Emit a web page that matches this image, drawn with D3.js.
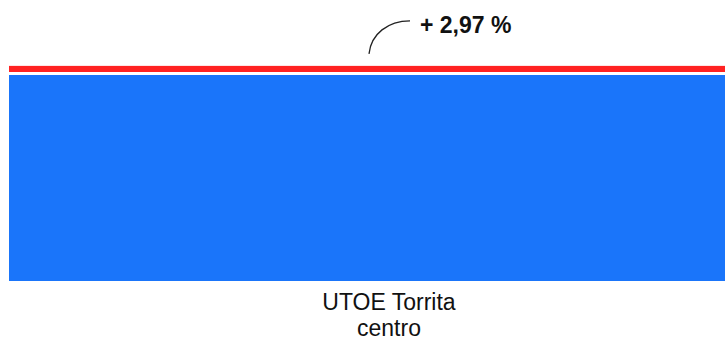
<!DOCTYPE html>
<html>
<head>
<meta charset="utf-8">
<script src="https://cdn.jsdelivr.net/npm/d3@7"></script>
<style>
  html, body { margin: 0; padding: 0; background: #fff; overflow: hidden; }
  svg { display: block; }
  text { font-family: "Liberation Sans", Arial, sans-serif; }
</style>
</head>
<body>
<svg id="chart" width="725" height="341"></svg>
<script>
// Single stacked column: base population index plus growth segment
const categories = ["UTOE Torrita centro"];
const labelLines = [["UTOE Torrita", "centro"]];
const baseValues = [100];
const growthValues = [2.97];
const growthLabels = ["+ 2,97 %"];

const width = 725, height = 341;
const svg = d3.select("#chart");

const x = d3.scaleBand()
  .domain(categories)
  .range([9, 769])
  .padding(0);

const y = d3.scaleLinear()
  .domain([0, 100])
  .range([281, 75]);

const gap = 3;

// base segment
svg.selectAll("rect.base")
  .data(categories)
  .join("rect")
  .attr("class", "base")
  .attr("x", d => x(d))
  .attr("width", x.bandwidth())
  .attr("y", (d, i) => y(baseValues[i]))
  .attr("height", (d, i) => y(0) - y(baseValues[i]))
  .attr("fill", "#1a75fa");

// growth segment stacked on top, separated by a thin white gap
svg.selectAll("rect.growth")
  .data(categories)
  .join("rect")
  .attr("class", "growth")
  .attr("x", d => x(d))
  .attr("width", x.bandwidth())
  .attr("y", (d, i) => y(baseValues[i] + growthValues[i]) - gap)
  .attr("height", (d, i) => y(baseValues[i]) - y(baseValues[i] + growthValues[i]))
  .attr("fill", "#ff2222");

// category labels
const lbl = svg.selectAll("text.cat")
  .data(categories)
  .join("text")
  .attr("class", "cat")
  .attr("x", d => x(d) + x.bandwidth() / 2)
  .attr("y", 310)
  .attr("text-anchor", "middle")
  .attr("font-size", 23)
  .attr("fill", "#111");
lbl.selectAll("tspan")
  .data((d, i) => labelLines[i])
  .join("tspan")
  .attr("x", function() { return d3.select(this.parentNode).attr("x"); })
  .attr("dy", (d, i) => i === 0 ? 0 : 26)
  .text(d => d);

// growth annotation with curved leader
categories.forEach((c, i) => {
  const topY = y(baseValues[i] + growthValues[i]) - gap;
  const sx = 369, sy = topY - 12;
  const ex = 410, ey = topY - 45;
  const p = d3.path();
  p.moveTo(sx, sy);
  p.bezierCurveTo(sx + 2, sy - 20, ex - 22, ey, ex, ey);
  svg.append("path")
    .attr("d", p.toString())
    .attr("fill", "none")
    .attr("stroke", "#222")
    .attr("stroke-width", 1.3);
  svg.append("text")
    .attr("x", ex + 10)
    .attr("y", ey + 12)
    .attr("font-size", 23)
    .attr("font-weight", "bold")
    .attr("fill", "#111")
    .text(growthLabels[i]);
});
</script>
</body>
</html>
